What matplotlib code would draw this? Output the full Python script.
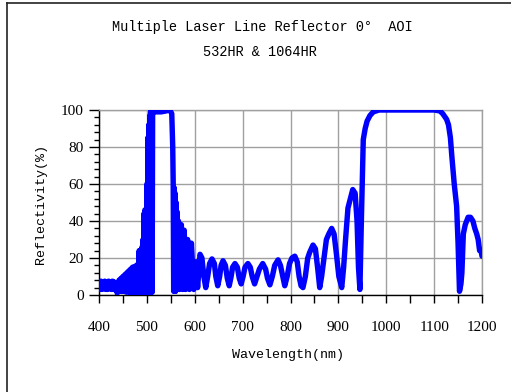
import matplotlib
matplotlib.use("Agg")
import matplotlib.pyplot as plt
from matplotlib.lines import Line2D
from matplotlib.ticker import MultipleLocator

# measured curve (read off the reference), nm / %
# short-wave side: fast ripple below the 532 band
wl_blue = [
    400, 402, 404, 406, 408, 410, 412, 414, 416, 418, 420, 422, 424, 426, 428, 430,
    432, 434, 436, 438,
    440, 441, 442, 443, 444, 445, 446, 447, 448, 449, 450, 451, 452, 453, 454, 455,
    456, 457, 458, 459, 460, 461, 462, 463, 464, 465, 466, 467, 468, 469, 470, 471,
    472, 473, 474, 475, 476, 477, 478, 479, 480, 481, 482, 483, 484, 485, 486, 487,
    488, 489, 490, 491, 492, 493, 494, 495, 496, 497, 498, 499, 500, 501, 502, 503,
    504, 505, 506, 507, 508, 509, 510, 511, 512,
]
r_blue = [
    7, 3, 7.5, 3, 7, 3.5, 7.5, 3, 7, 3, 7.5, 3.5, 7, 3, 7.5, 3,
    7, 3, 6, 1,
    7, 2, 8, 2, 8, 2, 9, 2, 9, 2, 10, 2, 10, 2, 11, 2,
    11, 1.5, 12, 2, 12, 2, 13, 1.5, 13, 1.5, 14, 1.5, 14, 1.5, 15, 1.5,
    15, 1.5, 15, 1.5, 15, 1.5, 16, 1.5, 16, 1.5, 17, 1.5, 24, 1.5, 24, 1.5,
    24, 1.5, 26, 1.5, 30, 1.5, 44, 1.5, 46, 1.5, 46, 1.5, 60, 1.5, 85, 1.5,
    92, 1.5, 97, 1.5, 100, 1.5, 100, 1.5, 100,
]

# 532 band top, long-wave ripple, 1064 band and beyond
wl_red = [
    515, 520, 530, 540, 548, 552, 554,
    555, 556, 557, 558, 559, 560, 561, 562, 563, 564, 566, 568, 570, 572, 575, 578,
    581, 585, 589, 593, 598,
    602, 606, 611, 615, 619, 623, 627, 631, 636, 641, 644, 648, 652, 655, 659, 664,
    668, 672, 676, 679, 684, 689, 693, 697, 701, 705, 711, 716, 720, 725, 730, 735,
    742, 748, 752, 757, 762, 767, 774, 779, 784, 788, 793, 798, 803, 809, 814, 818,
    822, 826, 831, 836, 840, 847, 852, 857, 861, 865, 870, 875, 880, 886, 891, 896,
    901, 907, 911, 915, 920, 925, 930, 935, 939, 942, 945, 948, 952, 956, 960, 966,
    973, 985, 1000, 1050, 1100, 1112, 1118, 1122, 1126, 1130, 1134, 1137, 1142, 1147,
    1150, 1153, 1156, 1158, 1161, 1165, 1171, 1176, 1181, 1185, 1189, 1192, 1195, 1198,
    1200,
]
r_red = [
    99, 99, 99, 99.5, 100, 98, 80,
    60, 2, 58, 2, 55, 2, 50, 3, 45, 3, 40, 3, 38, 38, 3, 35,
    3, 30, 3, 28, 3,
    18, 4, 22, 20, 10, 4, 10, 17, 19.5, 17, 10, 5, 10, 16, 18.5, 16,
    9, 5, 10, 15, 17, 15, 9, 6, 10, 15, 17, 15, 10, 6, 10, 14,
    17, 14, 9, 5.5, 10, 16, 19, 16, 10, 5, 10, 17, 20, 21, 18, 10,
    5, 4, 10, 20, 23, 27, 25, 14, 4, 10, 20, 30, 33, 36, 33, 22,
    10, 4, 15, 30, 47, 52, 57, 55, 40, 15, 3, 40, 84, 90, 94, 97,
    99, 100, 100, 100, 100, 99.5, 98, 96.5, 95, 92, 85, 75, 60, 48,
    28, 2, 6, 12, 33, 38, 42, 42, 40, 36, 33, 30, 24, 24,
    21,
]

title_1 = "Multiple Laser Line Reflector 0°  AOI"
title_2 = "532HR & 1064HR"
x_label = "Wavelength(nm)"
y_label = "Reflectivity(%)"

mono = "Liberation Mono"
serif = "Liberation Serif"

W, H = 511, 392
fig = plt.figure(figsize=(W / 100, H / 100), dpi=100)
ax = fig.add_axes([99 / W, 1 - 295 / H, 383 / W, 185 / H])

ax.plot(wl_blue + wl_red, r_blue + r_red, color="#0000ff", linewidth=3.9,
        solid_joinstyle="round", solid_capstyle="round", zorder=3)

ax.set_xlim(400, 1200)
ax.set_ylim(0, 100)
ax.xaxis.set_major_locator(MultipleLocator(100))
ax.xaxis.set_minor_locator(MultipleLocator(50))
ax.yaxis.set_major_locator(MultipleLocator(20))
ax.yaxis.set_minor_locator(MultipleLocator(4))
ax.grid(True, which="major", color="#a0a0a0", linewidth=1.0, zorder=1)
ax.set_axisbelow(True)

for side in ["top", "right"]:
    ax.spines[side].set_color("#a0a0a0")
    ax.spines[side].set_linewidth(1.0)
for side in ["left", "bottom"]:
    ax.spines[side].set_color("black")
    ax.spines[side].set_linewidth(1.0)

ax.tick_params(axis="x", which="both", direction="out", length=6, width=1,
               pad=13, labelsize=11)
ax.tick_params(axis="y", which="major", direction="out", length=7, width=1,
               pad=4, labelsize=11)
ax.tick_params(axis="y", which="minor", direction="out", length=3.5, width=1)
for lab in ax.get_xticklabels() + ax.get_yticklabels():
    lab.set_fontfamily(serif)

fig.text(262 / W, 1 - 27 / H, title_1, ha="center", va="center",
         fontsize=9.8, family=mono)
fig.text(260 / W, 1 - 52 / H, title_2, ha="center", va="center",
         fontsize=9.8, family=mono)
fig.text(288 / W, 1 - 355 / H, x_label, ha="center", va="center",
         fontsize=9.6, family=mono)
fig.text(41 / W, 1 - 204 / H, y_label, ha="center", va="center",
         rotation=90, fontsize=9.6, family=mono)

# outer frame (only left and top edges are inside the image)
fig.add_artist(Line2D([6.5 / W, 6.5 / W], [0, 1 - 2.5 / H], color="#222222",
                      linewidth=1.2, transform=fig.transFigure))
fig.add_artist(Line2D([6.5 / W, 1], [1 - 2.5 / H, 1 - 2.5 / H], color="#222222",
                      linewidth=1.2, transform=fig.transFigure))

fig.savefig("out.png", dpi=100)
